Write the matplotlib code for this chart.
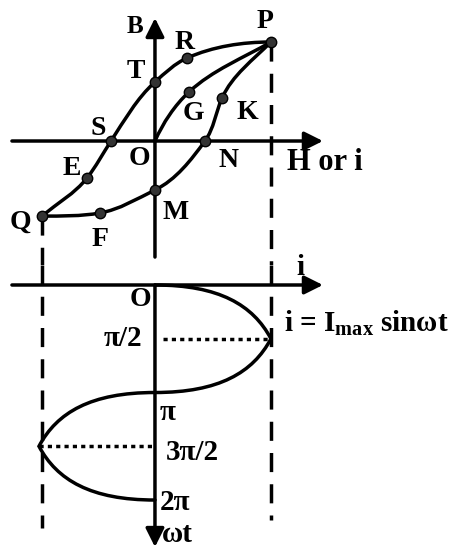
import numpy as np
import matplotlib
matplotlib.use("Agg")
import matplotlib.pyplot as plt
from matplotlib.path import Path
from matplotlib.patches import PathPatch

plt.rcParams["font.family"] = ["Liberation Serif", "DejaVu Serif"]
plt.rcParams["font.weight"] = "bold"
plt.rcParams["mathtext.fontset"] = "custom"
plt.rcParams["mathtext.rm"] = "Liberation Serif:bold"
plt.rcParams["mathtext.it"] = "Liberation Serif:bold"
plt.rcParams["mathtext.bf"] = "Liberation Serif:bold"

# === Hysteresis loop points (H, B), P = (1, 1) ===
pt_names = ["O", "P", "Q", "R", "T", "S", "E", "G", "K", "N", "M", "F"]
pt_H = [0.0, 1.0, -0.974, 0.276, 0.0, -0.379, -0.586, 0.293, 0.578, 0.431, 0.0, -0.474]
pt_B = [0.0, 1.0, -0.758, 0.838, 0.596, 0.0, -0.374, 0.495, 0.434, 0.0, -0.495, -0.727]
dotted_pts = ["P", "Q", "R", "T", "S", "E", "G", "K", "N", "M", "F"]

# branches and the tangent direction (screen angle, deg) at each point
upper_branch = ["Q", "E", "S", "T", "R", "P"]
upper_angles = [40, 52, 57, 42, 24, 0]
lower_branch = ["P", "K", "N", "M", "F", "Q"]
lower_angles = [225, 246, 234, 206, 190, 180]
initial_curve = ["O", "G", "P"]
initial_angles = [66, 43, 30]

# label positions (H, B)
lbl_text = ["B", "P", "R", "T", "G", "K", "S", "O", "N", "E", "Q", "M", "F"]
lbl_H = [-0.172, 0.948, 0.259, -0.164, 0.328, 0.793, -0.491, -0.138, 0.638, -0.72, -1.164, 0.181, -0.474]
lbl_B = [1.152, 1.202, 0.99, 0.697, 0.273, 0.283, 0.131, -0.172, -0.192, -0.273, -0.818, -0.727, -0.99]

# === Current waveform i = Imax sin(wt) ===
wt_keys = [0, np.pi / 2, np.pi, 3 * np.pi / 2, 2 * np.pi]
i_keys = [0.0, 1.0, 0.0, -1.0, 0.0]
sine_start_angles = [0, 242, 180, -62]
sine_end_angles = [-62, 180, 242, 0]
sine_start_frac = [0.5, 0.3, 0.5, 0.3]
sine_end_frac = [0.3, 0.5, 0.3, 0.5]
wt_tick_labels = ["π/2", "π", "3π/2", "2π"]

H_LIM = (-1.336, 2.647)
B_LIM = (-1.2525, 1.4242)
WT_LIM = (7.685, -0.584)

LW = 2.5

fig = plt.figure(figsize=(4.62, 5.48), dpi=100)
ax1 = fig.add_axes([0, 0.5164, 1, 0.4836])
ax2 = fig.add_axes([0, 0, 1, 0.5164])
ax1.set_xlim(*H_LIM)
ax1.set_ylim(*B_LIM)
ax2.set_xlim(*H_LIM)
ax2.set_ylim(*WT_LIM)
for a in (ax1, ax2):
    a.axis("off")


def bezier_curve(ax, xs, ys, start_angles, end_angles, f0=None, f1=None):
    # cubic segments built in screen space so the angles look right
    tr = ax.transData
    pts = tr.transform(np.column_stack([xs, ys]))
    n = len(pts) - 1
    f0 = f0 or [1 / 3] * n
    f1 = f1 or [1 / 3] * n
    verts = [pts[0]]
    codes = [Path.MOVETO]
    for k in range(n):
        a, b = pts[k], pts[k + 1]
        L = np.hypot(*(b - a))
        da = np.radians(start_angles[k])
        db = np.radians(end_angles[k])
        verts += [a + f0[k] * L * np.array([np.cos(da), np.sin(da)]),
                  b - f1[k] * L * np.array([np.cos(db), np.sin(db)]), b]
        codes += [Path.CURVE4] * 3
    verts = tr.inverted().transform(np.array(verts))
    ax.add_patch(PathPatch(Path(verts, codes), fill=False, lw=LW, ec="black",
                           capstyle="round", zorder=3))


def arrow(ax, start, end):
    ax.annotate("", xy=end, xytext=start,
                arrowprops=dict(arrowstyle="-|>", lw=LW, color="black",
                                mutation_scale=28, shrinkA=0, shrinkB=0))


pos = {n: (h, b) for n, h, b in zip(pt_names, pt_H, pt_B)}

# === Top: hysteresis loop ===
arrow(ax1, (-1.233, 0), (1.448, 0))
arrow(ax1, (0, -1.172), (0, 1.242))

for names, angs in [(upper_branch, upper_angles), (lower_branch, lower_angles),
                    (initial_curve, initial_angles)]:
    xs = [pos[n][0] for n in names]
    ys = [pos[n][1] for n in names]
    bezier_curve(ax1, xs, ys, angs[:-1], angs[1:])

ax1.plot([pos[n][0] for n in dotted_pts], [pos[n][1] for n in dotted_pts], "o",
         ms=7.5, mfc="#333333", mec="black", mew=1, zorder=5)

dash = (0, (5.5, 3.5))
ax1.plot([pos["P"][0]] * 2, [pos["P"][1], B_LIM[0]], color="black", lw=LW, ls=dash, zorder=2)
ax1.plot([pos["Q"][0]] * 2, [pos["Q"][1], B_LIM[0]], color="black", lw=LW, ls=dash, zorder=2)

for t, h, b in zip(lbl_text, lbl_H, lbl_B):
    fs = 18 if t == "B" else 20
    ax1.text(h, b, t, fontsize=fs, ha="center", va="center")
ax1.text(1.138, -0.222, "H or i", fontsize=22, ha="left", va="center")

# === Bottom: current waveform ===
arrow(ax2, (-1.233, 0), (1.448, 0))
arrow(ax2, (0, 0), (0, 7.656))
bezier_curve(ax2, i_keys, wt_keys, sine_start_angles, sine_end_angles,
             sine_start_frac, sine_end_frac)

ax2.plot([0.07, i_keys[1]], [wt_keys[1]] * 2, color="black", lw=LW, ls=(0, (1.2, 1.2)))
ax2.plot([i_keys[3], -0.02], [wt_keys[3]] * 2, color="black", lw=LW, ls=(0, (1.2, 1.2)))

ax2.plot([pos["P"][0]] * 2, [WT_LIM[1], 6.87], color="black", lw=LW, ls=dash)
ax2.plot([pos["Q"][0]] * 2, [WT_LIM[1], 7.10], color="black", lw=LW, ls=dash)

ax2.text(1.25, -0.497, "i", fontsize=21, ha="center", va="center")
ax2.text(-0.129, 0.438, "O", fontsize=20, ha="center", va="center")
ax2.text(-0.276, wt_keys[1], wt_tick_labels[0], fontsize=21, ha="center", va="center")
ax2.text(0.043, 3.74, wt_tick_labels[1], fontsize=21, ha="left", va="center")
ax2.text(0.095, 4.88, wt_tick_labels[2], fontsize=21, ha="left", va="center")
ax2.text(0.043, 6.37, wt_tick_labels[3], fontsize=21, ha="left", va="center")
ax2.text(0.06, 7.28, "ωt", fontsize=21, ha="left", va="center")
ax2.text(1.11, 1.11, r"i = I$_\mathrm{max}$ sinωt", fontsize=21, ha="left", va="center")

fig.savefig("out.png", dpi=100)
